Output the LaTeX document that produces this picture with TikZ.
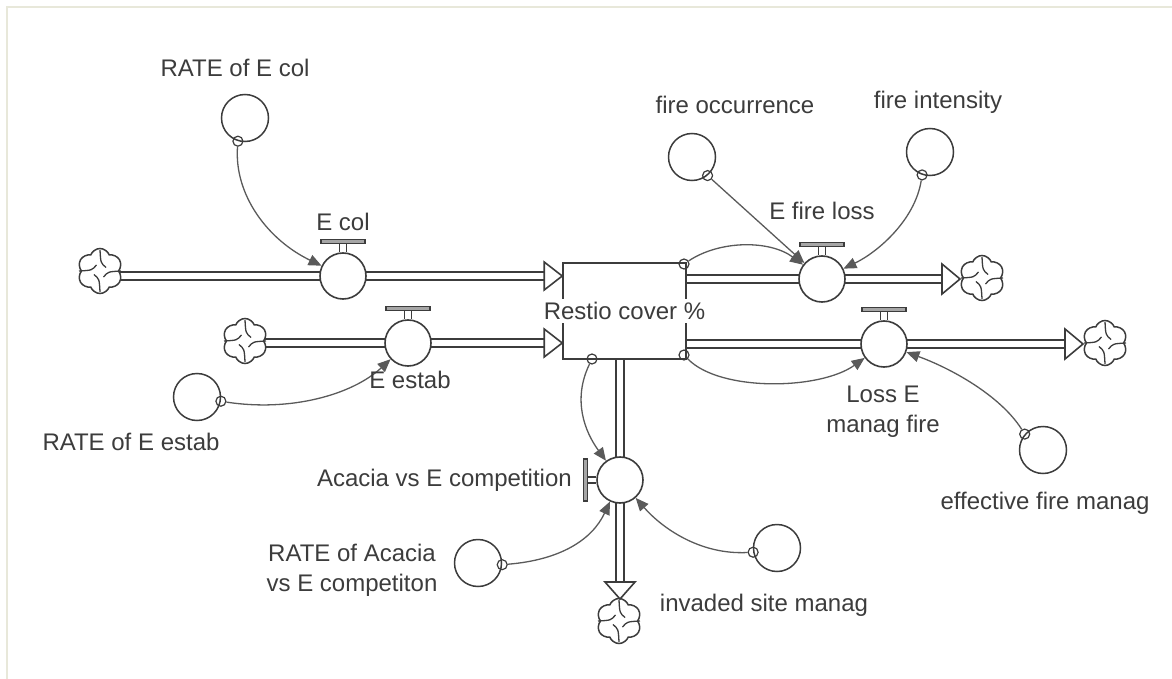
\documentclass[tikz,border=0pt]{standalone}
\usepackage{fontspec}
\setmainfont{Liberation Sans}
\usetikzlibrary{shapes.symbols,arrows.meta,calc,backgrounds}
\definecolor{ink}{HTML}{3C3C3C}
\definecolor{connc}{HTML}{5A5A5A}
\definecolor{framec}{HTML}{E8E8DA}
\newcommand\hvalvetop[1]{%
  \draw[ink, line width=1.2pt] ($(#1.north)+(-3.5,0)$) -- ++(0,-9);
  \draw[ink, line width=1.2pt] ($(#1.north)+(3.5,0)$) -- ++(0,-9);
  \draw[valvebar] ($(#1.north)+(-22,-9)$) rectangle ($(#1.north)+(22,-13)$);}
\newcommand\vvalveleft[1]{%
  \draw[ink, line width=1.2pt] ($(#1.west)+(0,-3)$) -- ++(-9,0);
  \draw[ink, line width=1.2pt] ($(#1.west)+(0,3)$) -- ++(-9,0);
  \draw[valvebar] ($(#1.west)+(-9,-21)$) rectangle ($(#1.west)+(-13,21)$);}
\newcommand\cloudswirl[1]{%
  \foreach \a in {0,90,180,270}
    \draw[ink, line width=1.3pt] ($(#1.center)+(\a:21)$) .. controls ($(#1.center)+(\a+5:8)$) .. ($(#1.center)+(\a+60:7)$);}
\begin{document}
\begin{tikzpicture}[x=1pt,y=-1pt,
  lbl/.style={font=\fontsize{24}{30}\selectfont, text=ink, inner sep=0pt, align=center},
  aux/.style={circle, draw=ink, line width=1.5pt, fill=white, minimum size=47pt, inner sep=0pt},
  dot/.style={circle, draw=ink, line width=1.2pt, minimum size=10pt, inner sep=0pt},
  valve/.style={circle, draw=ink, line width=1.6pt, fill=white, minimum size=46pt, inner sep=0pt},
  stockbox/.style={rectangle, draw=ink, line width=1.6pt, minimum width=123pt, minimum height=96pt, inner sep=0pt},
  cloudnode/.style={cloud, cloud puffs=6, cloud puff arc=140, aspect=1, draw=ink, line width=1.5pt, fill=white, minimum width=45pt, minimum height=45pt, inner sep=0pt},
  pipe/.style={draw=ink, line width=1.6pt, double=white, double distance=6.5pt},
  pipehead/.style={draw=ink, line width=1.6pt, fill=white, line join=miter},
  infl/.style={draw=connc, line width=1.3pt, -{Triangle[length=13pt,width=11pt]}},
  valvebar/.style={draw=ink, fill=gray!70, line width=1.2pt},
]
\useasboundingbox (0,0) rectangle (1172,679);
\draw[framec, line width=2pt] (7,679) -- (7,7) -- (1172,7);

% stock
\node[stockbox] (stock) at (624.5,311) {};

% clouds
\node[cloudnode] (c1) at (100,271) {};
\node[cloudnode] (c2) at (245,341) {};
\node[cloudnode] (c3) at (982,278) {};
\node[cloudnode] (c4) at (1105,343) {};
\node[cloudnode] (c5) at (619,621) {};
\cloudswirl{c1}\cloudswirl{c2}\cloudswirl{c3}\cloudswirl{c4}\cloudswirl{c5}

% valves
\node[valve] (vcol) at (343,276) {};
\node[valve] (vestab) at (408,343) {};
\node[valve] (vfire) at (822,279) {};
\node[valve] (vloss) at (884,344) {};
\node[valve] (vacacia) at (620,480) {};
\hvalvetop{vcol}\hvalvetop{vestab}\hvalvetop{vfire}\hvalvetop{vloss}
\vvalveleft{vacacia}

% arrow tips of pipes
\coordinate (t1) at (stock.west |- vcol);
\coordinate (t2) at (stock.west |- vestab);
\coordinate (t3) at (960,279);
\coordinate (t4) at (1083,344);
\coordinate (t5) at (620,599);

\begin{pgfonlayer}{background}
\draw[pipe] (c1.center |- vcol) -- ($(t1)+(-18,0)$);
\draw[pipe] (c2.center |- vestab) -- ($(t2)+(-18,0)$);
\draw[pipe] (stock.east |- vfire) -- ($(t3)+(-18,0)$);
\draw[pipe] (stock.east |- vloss) -- ($(t4)+(-18,0)$);
\draw[pipe] (stock.south -| vacacia) -- ($(t5)+(0,-17)$);
\end{pgfonlayer}
\draw[pipehead] ($(t1)+(-18,-14)$) -- (t1) -- ($(t1)+(-18,14)$) -- cycle;
\draw[pipehead] ($(t2)+(-18,-14)$) -- (t2) -- ($(t2)+(-18,14)$) -- cycle;
\draw[pipehead] ($(t3)+(-18,-15)$) -- (t3) -- ($(t3)+(-18,15)$) -- cycle;
\draw[pipehead] ($(t4)+(-18,-15)$) -- (t4) -- ($(t4)+(-18,15)$) -- cycle;
\draw[pipehead] ($(t5)+(-15,-17)$) -- (t5) -- ($(t5)+(15,-17)$) -- cycle;

% stock label
\node[lbl, fill=white, inner sep=3pt] (stocklbl) at (stock.center) {Restio cover \%};

% auxiliaries
\node[aux] (a1) at (245,118) {};
\node[aux] (a2) at (692,157) {};
\node[aux] (a3) at (930,152) {};
\node[aux] (a4) at (197,397) {};
\node[aux] (a5) at (1043,450) {};
\node[aux] (a6) at (478,563) {};
\node[aux] (a7) at (777,548) {};

% connector origins
\node[dot] (o1) at (a1.253) {};
\node[dot] (o2) at (a2.310) {};
\node[dot] (o3) at (a3.251) {};
\node[dot] (o4) at (a4.350) {};
\node[dot] (o5) at (a5.139) {};
\node[dot] (o6) at (a6.356) {};
\node[dot] (o7) at (a7.190) {};
\node[dot] (s1) at (684,264) {};
\node[dot] (s2) at (684,355) {};
\node[dot] (s3) at (592,359) {};

% connectors
\draw[infl] (o1) .. controls (234,195) and (268,240) .. (vcol);
\draw[infl] (o2) -- (vfire);
\draw[infl] (o3) .. controls (915,220) and (878,252) .. (vfire);
\draw[infl] (s1) .. controls (720,240) and (770,240) .. (vfire);
\draw[infl] (o4) .. controls (290,412) and (352,395) .. (vestab);
\draw[infl] (s2) .. controls (720,392) and (820,390) .. (vloss);
\draw[infl] (o5) .. controls (1000,395) and (950,368) .. (vloss);
\draw[infl] (s3) .. controls (572,400) and (585,432) .. (vacacia);
\draw[infl] (o6) .. controls (560,560) and (592,540) .. (vacacia);
\draw[infl] (o7) .. controls (700,555) and (662,528) .. (vacacia);

% labels
\node[lbl] (l1) at (235,68) {RATE of E col};
\node[lbl] (l2) at (343,222) {E col};
\node[lbl] (l3) at (735,105) {fire occurrence};
\node[lbl] (l4) at (938,102) {fire intensity};
\node[lbl] (l5) at (822,211) {E fire loss};
\node[lbl] (l6) at (410,380) {E estab};
\node[lbl] (l7) at (131,442) {RATE of E estab};
\node[lbl] (l8) at (883,412) {Loss E\\manag fire};
\node[lbl] (l9) at (1045,503) {effective fire manag};
\node[lbl, anchor=east] (l10) at (572,480) {Acacia vs E competition};
\node[lbl] (l11) at (352,570) {RATE of Acacia\\vs E competiton};
\node[lbl] (l12) at (764,605) {invaded site manag};
\end{tikzpicture}
\end{document}
